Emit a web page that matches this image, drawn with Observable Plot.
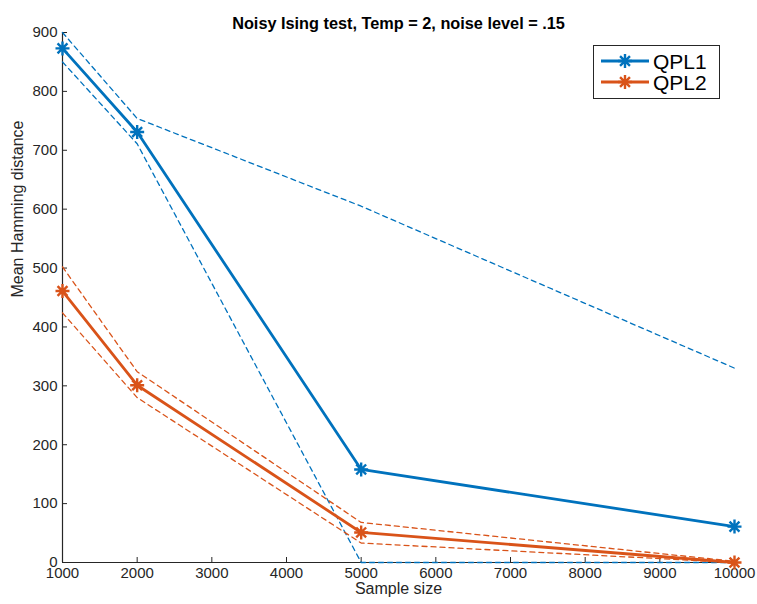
<!DOCTYPE html>
<html>
<head>
<meta charset="utf-8">
<script src="https://cdn.jsdelivr.net/npm/d3@7"></script>
<script src="https://cdn.jsdelivr.net/npm/@observablehq/plot@0.6"></script>
<style>
  body { margin: 0; background: #fff; }
  #wrap { position: relative; width: 757px; height: 604px; font-family: "Liberation Sans", Arial, Helvetica, sans-serif; }
  #legend { position: absolute; left: 593px; top: 45px; z-index: 2; }
</style>
</head>
<body>
<div id="wrap"><svg id="legend" width="127" height="54"></svg></div>
<script>
// Sample sizes along the x axis
const sampleSizes = [1000, 2000, 5000, 10000];

// QPL1: mean Hamming distance and its upper / lower band
const qpl1Mean  = [873, 731, 158, 61];
const qpl1Upper = [900, 754, 605, 330];
const qpl1Lower = [850, 711, 0, 0];

// QPL2: mean Hamming distance and its upper / lower band
const qpl2Mean  = [461, 301, 51, 0];
const qpl2Upper = [502, 324, 68, 2];
const qpl2Lower = [424, 280, 33, 0];

const seriesNames = ["QPL1", "QPL2"];
const seriesColors = ["#0072BD", "#D95319"];

const xTicks = d3.range(1000, 10001, 1000);
const yTicks = d3.range(0, 901, 100);

const titleText = "Noisy Ising test, Temp = 2, noise level = .15";
const xLabel = "Sample size";
const yLabel = "Mean Hamming distance";

const ink = "#262626";
const font = "Liberation Sans, Arial, Helvetica, sans-serif";

// tidy rows for the solid mean lines and the dashed bounds
const toRows = (name, vals, kind) => vals.map((v, i) => ({series: name, kind, key: name + "-" + kind, x: sampleSizes[i], y: v}));
const meanRows = [...toRows("QPL1", qpl1Mean, "mean"), ...toRows("QPL2", qpl2Mean, "mean")];
const boundRows = [
  ...toRows("QPL1", qpl1Upper, "upper"), ...toRows("QPL1", qpl1Lower, "lower"),
  ...toRows("QPL2", qpl2Upper, "upper"), ...toRows("QPL2", qpl2Lower, "lower")
];

// eight-spoke asterisk marker
const asterisk = {
  draw(context, size) {
    const r = Math.sqrt(size / Math.PI);
    for (let k = 0; k < 4; k++) {
      const a = k * Math.PI / 4;
      const c = Math.cos(a) * r, s = Math.sin(a) * r;
      context.moveTo(c, s);
      context.lineTo(-c, -s);
    }
  }
};

const color = {domain: seriesNames, range: seriesColors};

const chart = Plot.plot({
  width: 757,
  height: 604,
  marginLeft: 62,
  marginRight: 23,
  marginTop: 32,
  marginBottom: 42,
  style: {fontFamily: font, color: ink, background: "white"},
  x: {domain: [1000, 10000], axis: null},
  y: {domain: [0, 900], axis: null},
  color,
  marks: [
    // axis lines
    Plot.ruleY([0], {x1: 1000, x2: 10000, stroke: ink, strokeWidth: 1.2}),
    Plot.ruleX([1000], {y1: 0, y2: 900, stroke: ink, strokeWidth: 1.2}),
    // inward tick marks
    Plot.axisX(xTicks, {tickSize: -5, text: null, stroke: ink, label: null}),
    Plot.axisY(yTicks, {tickSize: -5, text: null, stroke: ink, label: null}),
    // tick labels
    Plot.text(xTicks, {x: d => d, text: d => String(d), frameAnchor: "bottom", dy: 15, fontSize: 15, fill: ink}),
    Plot.text(yTicks, {y: d => d, text: d => String(d), frameAnchor: "left", dx: -5, textAnchor: "end", fontSize: 15, fill: ink}),
    // dashed bounds
    Plot.line(boundRows, {x: "x", y: "y", z: "key", stroke: "series", strokeWidth: 1.3, strokeDasharray: "5,4"}),
    // mean lines with markers
    Plot.line(meanRows, {x: "x", y: "y", z: "series", stroke: "series", strokeWidth: 2.8}),
    Plot.dot(meanRows, {x: "x", y: "y", stroke: "series", symbol: asterisk, r: 7, strokeWidth: 2.4, fill: "none"}),
    // title and axis labels
    Plot.text([titleText], {frameAnchor: "top", dy: -15, fontSize: 16.3, fontWeight: "bold", fill: "black"}),
    Plot.text([xLabel], {frameAnchor: "bottom", dy: 31, fontSize: 16, fill: ink}),
    Plot.text([yLabel], {frameAnchor: "left", dx: -45, rotate: -90, fontSize: 16, fill: ink})
  ]
});

const wrap = document.getElementById("wrap");
wrap.insertBefore(chart, wrap.firstChild);

// legend box in the upper right corner
const legend = d3.select("#legend");
legend.append("rect")
  .attr("x", 0.5).attr("y", 0.5).attr("width", 126).attr("height", 53)
  .attr("fill", "white").attr("stroke", ink).attr("stroke-width", 1);
const rows = legend.selectAll("g.entry").data(seriesNames).join("g")
  .attr("class", "entry")
  .attr("transform", (d, i) => `translate(0,${16 + i * 21})`);
rows.append("line")
  .attr("x1", 8).attr("x2", 56).attr("y1", 0).attr("y2", 0)
  .attr("stroke", (d, i) => seriesColors[i]).attr("stroke-width", 2.8);
rows.append("path")
  .attr("transform", "translate(32,0)")
  .attr("d", () => { const p = d3.path(); asterisk.draw(p, Math.PI * 49); return p.toString(); })
  .attr("stroke", (d, i) => seriesColors[i]).attr("stroke-width", 2.4).attr("fill", "none");
rows.append("text")
  .attr("x", 60).attr("y", 0).attr("dy", "0.36em")
  .attr("font-family", font).attr("font-size", 21).attr("fill", "black")
  .text(d => d);
</script>
</body>
</html>
